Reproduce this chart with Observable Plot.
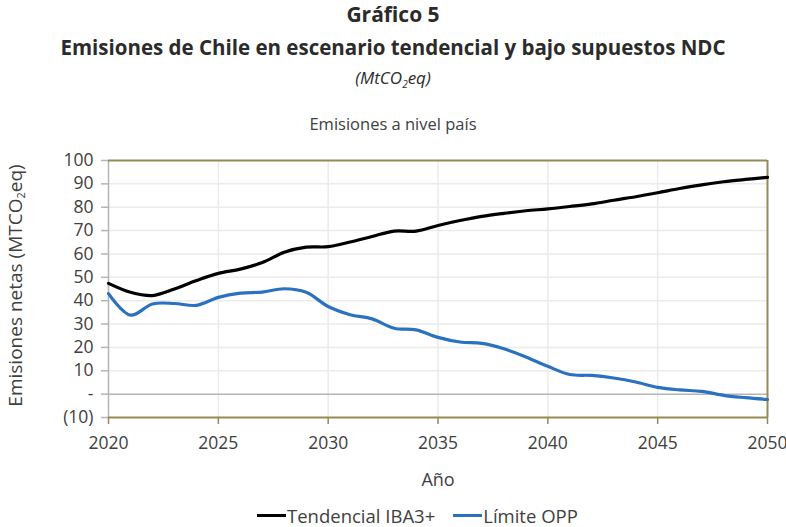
<!DOCTYPE html>
<html>
<head>
<meta charset="utf-8">
<script src="https://cdn.jsdelivr.net/npm/d3@7"></script>
<script src="https://cdn.jsdelivr.net/npm/@observablehq/plot@0.6"></script>
<style>
  html, body { margin: 0; padding: 0; background: #fff; }
  body { width: 786px; height: 527px; position: relative; overflow: hidden; font-family: "Open Sans", Lato, sans-serif; color: #2b2b2b; }
  .hd { position: absolute; left: 0; width: 786px; text-align: center; }
  .t1 { top: 1px; font-weight: bold; font-size: 21px; line-height: 26px; color: #2b2b2b; }
  .t2 { top: 34px; font-weight: bold; font-size: 20.5px; line-height: 26px; color: #2b2b2b; }
  .t3 { top: 68px; font-style: italic; font-size: 17px; line-height: 20px; color: #2b2b2b; }
  .t3 sub { font-size: 10px; line-height: 0; }
  .t4 { top: 114px; font-size: 16.5px; line-height: 20px; color: #404040; }
  #chart { position: absolute; left: 0; top: 140px; }
  .legend { position: absolute; left: 257px; top: 505px; display: flex; gap: 18px; font-size: 18.5px; line-height: 21px; color: #404040; white-space: nowrap; }
  .legend span { display: inline-flex; align-items: center; }
  .sw { display: inline-block; width: 29px; height: 3px; margin-right: 1px; }
</style>
</head>
<body>
<div class="hd t1">Gráfico 5</div>
<div class="hd t2">Emisiones de Chile en escenario tendencial y bajo supuestos NDC</div>
<div class="hd t3">(MtCO<sub>2</sub>eq)</div>
<div class="hd t4">Emisiones a nivel país</div>
<div id="chart"></div>
<div class="legend">
  <span><i class="sw" style="background:#000"></i>Tendencial IBA3+</span>
  <span><i class="sw" style="background:#2a72c0"></i>Límite OPP</span>
</div>
<script>
const years = [2020,2021,2022,2023,2024,2025,2026,2027,2028,2029,2030,2031,2032,2033,2034,2035,2036,2037,2038,2039,2040,2041,2042,2043,2044,2045,2046,2047,2048,2049,2050];
const tendencial = [47.4,43.6,42.2,45.0,48.6,51.7,53.5,56.3,60.7,62.9,63.1,65.1,67.5,69.8,69.8,72.2,74.3,76.1,77.4,78.5,79.3,80.3,81.4,83.0,84.5,86.2,88.0,89.6,90.9,91.9,92.8];
const limite = [43.0,33.8,38.6,38.8,38.0,41.4,43.2,43.7,45.1,43.6,37.5,34.0,32.2,28.2,27.5,24.3,22.3,21.7,19.4,15.9,11.9,8.4,8.0,6.9,5.2,2.9,1.8,1.2,-0.5,-1.5,-2.3];
const yTicks = [-10,0,10,20,30,40,50,60,70,80,90,100];
const xTicks = [2020,2025,2030,2035,2040,2045,2050];
const seriesNames = ["Tendencial IBA3+", "Límite OPP"];

const data = [];
years.forEach((y, i) => {
  data.push({year: y, value: tendencial[i], serie: seriesNames[0]});
  data.push({year: y, value: limite[i], serie: seriesNames[1]});
});

const olive = "#968a52";
const axisGray = "#b5b5b5";
const textCol = "#404040";

const plot = Plot.plot({
  width: 786,
  height: 380,
  marginLeft: 108,
  marginRight: 19,
  marginTop: 20,
  marginBottom: 103,
  style: {fontFamily: '"Open Sans", Lato, sans-serif', fontSize: "17px", color: textCol, background: "transparent", overflow: "visible"},
  x: {domain: [2020, 2050], label: null},
  y: {domain: [-10, 100], label: null},
  color: {domain: seriesNames, range: ["#000000", "#2a72c0"]},
  marks: [
    Plot.ruleY(yTicks.filter(d => d > -10 && d < 100 && d !== 0), {stroke: "#ebebeb", strokeWidth: 1.5}),
    Plot.ruleX(xTicks.filter(d => d > 2020 && d < 2050), {stroke: "#ebebeb", strokeWidth: 1.5}),
    Plot.ruleY([0], {stroke: axisGray, strokeWidth: 1.5}),
    Plot.ruleX([2020], {stroke: axisGray, strokeWidth: 1.5}),
    Plot.ruleY([100, -10], {stroke: olive, strokeWidth: 2}),
    Plot.ruleX([2050], {stroke: olive, strokeWidth: 2}),
    Plot.axisY({ticks: yTicks, tickSize: 7, tickPadding: 8, stroke: axisGray, strokeWidth: 1.5, color: textCol, fontSize: 17.5, label: null,
      tickFormat: d => d === 0 ? "-" : d < 0 ? `(${-d})` : String(d)}),
    Plot.axisX({ticks: xTicks, tickSize: 7, tickPadding: 12, stroke: olive, strokeWidth: 1.5, color: textCol, fontSize: 17.5, label: null,
      tickFormat: d => String(d)}),
    Plot.line(data, {x: "year", y: "value", z: "serie", stroke: "serie", strokeWidth: 3.2, curve: "catmull-rom"}),
    Plot.text(["Año"], {frameAnchor: "bottom", dy: 68, fontSize: 18, fill: textCol})
  ]
});

document.getElementById("chart").appendChild(plot);

// Y-axis label with subscript
const svg = d3.select(plot);
const lbl = svg.append("text")
  .attr("transform", `translate(17, ${20 + 257/2 - 3}) rotate(-90)`)
  .attr("text-anchor", "middle")
  .attr("dominant-baseline", "middle")
  .attr("fill", textCol)
  .attr("font-size", 19)
  .attr("font-family", '"Open Sans", Lato, sans-serif');
lbl.append("tspan").text("Emisiones netas (MTCO");
lbl.append("tspan").attr("font-size", 11).attr("dy", 5).text("2");
lbl.append("tspan").attr("dy", -5).text("eq)");
</script>
</body>
</html>
